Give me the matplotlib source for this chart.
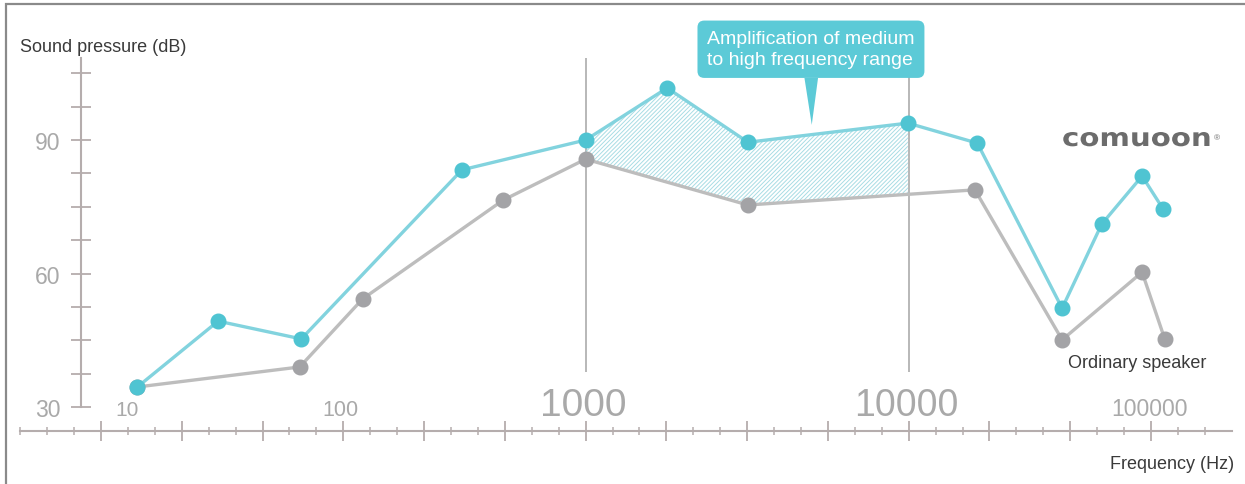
import numpy as np
import matplotlib
matplotlib.use("Agg")
import matplotlib.pyplot as plt
from matplotlib.patches import Rectangle, PathPatch
from matplotlib.textpath import TextPath
from matplotlib.font_manager import FontProperties
from matplotlib.transforms import Affine2D, IdentityTransform

# x positions are in "axis units": one unit = one major tick on the frequency axis
comuoon_pos = [0.45, 1.45, 2.48, 4.47, 6.0, 7.01, 8.01, 9.99, 10.85, 11.90, 12.39, 12.89, 13.15]
comuoon_db = [34.5, 49.3, 45.3, 83.3, 90.0, 101.7, 89.5, 93.8, 89.3, 52.2, 71.1, 81.9, 74.5]

ordinary_pos = [0.45, 2.46, 3.24, 4.98, 6.0, 8.01, 10.82, 11.90, 12.89, 13.17]
ordinary_db = [34.5, 39.0, 54.3, 76.5, 85.7, 75.4, 78.8, 45.1, 60.3, 45.3]

freq_labels = ["10", "100", "1000", "10000", "100000"]
freq_label_pos = [0.32, 2.96, 5.97, 9.97, 12.98]
freq_label_size = [15, 15.5, 28, 27, 16.5]

db_ticks = np.arange(30, 106, 7.5)
db_labels = ["30", "", "", "", "60", "", "", "", "90", "", ""]

ref_lines = [6.0, 10.0]   # 1000 Hz and 10000 Hz guides
amp_range = (6.0, 10.0)

BLUE = "#4fc4d2"
BLUE_LINE = "#82d3de"
GREY = "#a3a3a6"
GREY_LINE = "#bdbdbd"
AXIS = "#b5adad"
LABEL = "#a9a9a9"

plt.rcParams["font.family"] = ["Liberation Sans", "DejaVu Sans"]
plt.rcParams["hatch.linewidth"] = 0.7

fig = plt.figure(figsize=(12.45, 4.85), dpi=100)
ax = fig.add_axes([0, 0, 1, 1])
ax.set_xlim(-1.2505, 14.164)
ax.set_ylim(12.70, 121.69)
ax.patch.set_alpha(0)

for side in ["top", "right"]:
    ax.spines[side].set_visible(False)

# y axis
ax.spines["left"].set_position(("data", -0.2476))
ax.spines["left"].set_bounds(30, 108.4)
ax.spines["left"].set_color(AXIS)
ax.spines["left"].set_linewidth(1.5)
ax.set_yticks(db_ticks, db_labels)
ax.tick_params(axis="y", direction="inout", length=14, width=1.3, color=AXIS,
               labelcolor=LABEL, labelsize=16.5, pad=8)

# frequency axis
ax.spines["bottom"].set_position(("data", 24.6))
ax.spines["bottom"].set_bounds(-1, 14)
ax.spines["bottom"].set_color(AXIS)
ax.spines["bottom"].set_linewidth(1.5)
ax.set_xticks(np.arange(0, 14))
ax.set_xticks(np.arange(-1, 14, 1 / 3), minor=True)
ax.tick_params(axis="x", which="major", direction="inout", length=14, width=1.3,
               color=AXIS, labelbottom=False)
ax.tick_params(axis="x", which="minor", direction="inout", length=6, width=1.1,
               color=AXIS, labelbottom=False)

for lab, pos, size in zip(freq_labels, freq_label_pos, freq_label_size):
    ax.text(pos, 28.2, lab, ha="center", va="baseline", fontsize=size, color=LABEL)

ax.vlines(ref_lines, 37.9, 108.4, color="#b8b8b8", linewidth=1.4, zorder=1)

# hatched gain area between the two curves
xs = np.union1d(comuoon_pos, ordinary_pos)
xs = xs[(xs >= amp_range[0]) & (xs <= amp_range[1])]
top = np.interp(xs, comuoon_pos, comuoon_db)
bot = np.interp(xs, ordinary_pos, ordinary_db)
ax.fill_between(xs, bot, top, facecolor="none", edgecolor="#a8dce4",
                hatch="////////", linewidth=0, zorder=2)

ax.plot(ordinary_pos, ordinary_db, color=GREY_LINE, linewidth=2.4, zorder=3)
ax.plot(ordinary_pos, ordinary_db, "o", color=GREY, markersize=10.5, zorder=4)
ax.plot(comuoon_pos, comuoon_db, color=BLUE_LINE, linewidth=2.4, zorder=5)
ax.plot(comuoon_pos, comuoon_db, "o", color=BLUE, markersize=10.5, zorder=6)

ax.annotate("Amplification of medium\nto high frequency range",
            xy=(8.80, 93.4), xytext=(8.79, 110.4), ha="center", va="center",
            multialignment="left", fontsize=14, color="white", linespacing=1.3,
            bbox=dict(boxstyle="round,pad=0.5,rounding_size=0.35", fc="#5ccad7", ec="none"),
            arrowprops=dict(arrowstyle="wedge,tail_width=0.7,shrink_factor=0.5",
                            fc="#5ccad7", ec="none", shrinkA=0, shrinkB=0),
            zorder=7)

fig.text(20 / 1245, 1 - 52 / 485, "Sound pressure (dB)", fontsize=13, color="#3a3a3a")
fig.text(1068 / 1245, 1 - 368 / 485, "Ordinary speaker", fontsize=13, color="#3a3a3a")
fig.text(1110 / 1245, 1 - 469 / 485, "Frequency (Hz)", fontsize=13, color="#3a3a3a")

# logo: wide, bold lettering stretched horizontally
logo = TextPath((0, 0), "comuoon", size=25,
                prop=FontProperties(family="DejaVu Sans", weight="bold"))
logo_tf = Affine2D().scale(1.17, 1.0).translate(1062, 485 - 147)
fig.add_artist(PathPatch(logo, transform=logo_tf + IdentityTransform(),
                         fc="#6c6c6c", ec="none"))
fig.text(1214 / 1245, 1 - 140 / 485, "\u00ae", fontsize=6, color="#6c6c6c")

# picture frame (only top and left edges visible)
fig.add_artist(Rectangle((6 / 1245, -0.1), 1.2, 1.1 - 5 / 485, transform=fig.transFigure,
                         fill=False, edgecolor="#8a8a8a", linewidth=1.6))

fig.savefig("out.png", dpi=100)
